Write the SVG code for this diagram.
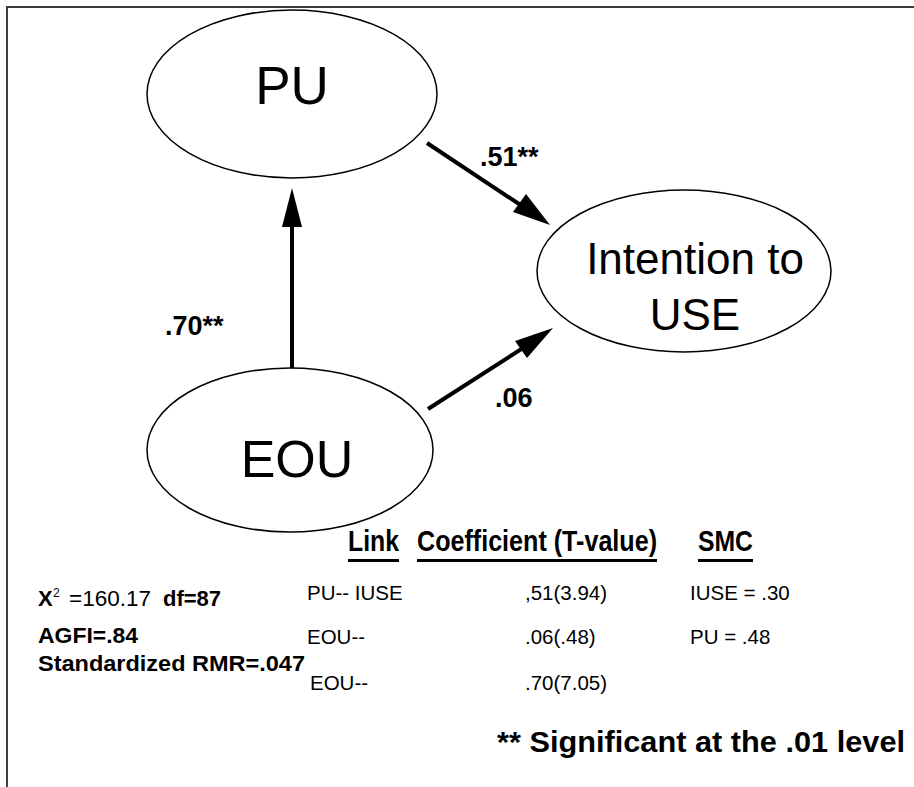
<svg xmlns="http://www.w3.org/2000/svg" width="914" height="787" viewBox="0 0 914 787">
  <defs>
    <style>
      .frame { fill: none; stroke: #3c3c3c; stroke-width: 2; }
      .node { fill: #ffffff; stroke: #000000; stroke-width: 1.5; }
      .nodeLabel { font-family: "Liberation Sans", Arial, sans-serif; fill: #000; text-anchor: middle; }
      .edge { stroke: #000000; stroke-width: 4; fill: none; }
      .head { fill: #000000; stroke: none; }
      .coef { font-family: "Liberation Sans", Arial, sans-serif; font-weight: bold; font-size: 27px; fill: #000; }
      .hdr { font-family: "Liberation Sans", Arial, sans-serif; font-weight: bold; font-size: 30px; fill: #000; }
      .rule { fill: #000; }
      .cell { font-family: "Liberation Sans", Arial, sans-serif; font-size: 20.5px; fill: #000; }
      .fit { font-family: "Liberation Sans", Arial, sans-serif; font-weight: bold; font-size: 22px; fill: #000; }
      .sup { font-family: "Liberation Sans", Arial, sans-serif; font-size: 12px; fill: #000; }
      .chi { font-family: "Liberation Sans", Arial, sans-serif; font-size: 22.5px; fill: #000; }
      .note { font-family: "Liberation Sans", Arial, sans-serif; font-weight: bold; font-size: 30px; fill: #000; }
    </style>
  </defs>

  <rect width="914" height="787" fill="#ffffff"/>

  <!-- frame: top and left edges -->
  <path class="frame" d="M7,787 V7 H914"/>

  <!-- structural paths -->
  <g id="connectors">
    <!-- EOU -> PU -->
    <line class="edge" x1="292" y1="370" x2="292" y2="222"/>
    <polygon class="head" points="292,188 302,227 282,227"/>
    <!-- PU -> Intention to USE -->
    <line class="edge" x1="427" y1="143" x2="525" y2="208"/>
    <polygon class="head" points="550,225 513,212 526,194"/>
    <!-- EOU -> Intention to USE -->
    <line class="edge" x1="428" y1="409" x2="526" y2="346"/>
    <polygon class="head" points="553,328 527,358 515,341"/>
  </g>

  <g id="node-PU">
    <ellipse class="node" cx="292" cy="94" rx="145" ry="84"/>
    <text class="nodeLabel" x="292" y="104" font-size="53">PU</text>
  </g>

  <g id="node-EOU">
    <ellipse class="node" cx="290" cy="450" rx="143" ry="82"/>
    <text class="nodeLabel" x="297" y="477" font-size="52">EOU</text>
  </g>

  <g id="node-IUSE">
    <ellipse class="node" cx="684" cy="271" rx="147" ry="81"/>
    <text class="nodeLabel" x="695" y="274" font-size="44">Intention to</text>
    <text class="nodeLabel" x="695" y="330" font-size="44">USE</text>
  </g>

  <!-- path coefficients -->
  <g id="edge-labels">
    <text class="coef" x="480" y="166">.51**</text>
    <text class="coef" x="165" y="335">.70**</text>
    <text class="coef" x="495" y="407">.06</text>
  </g>

  <!-- results table -->
  <g id="table">
    <text class="hdr" x="348" y="551" textLength="51" lengthAdjust="spacingAndGlyphs">Link</text>
    <rect class="rule" x="348" y="559" width="51" height="3"/>
    <text class="hdr" x="417" y="551" textLength="240" lengthAdjust="spacingAndGlyphs">Coefficient (T-value)</text>
    <rect class="rule" x="417" y="559" width="240" height="3"/>
    <text class="hdr" x="698" y="551" textLength="55" lengthAdjust="spacingAndGlyphs">SMC</text>
    <rect class="rule" x="698" y="559" width="55" height="3"/>

    <text class="cell" x="307" y="600">PU-- IUSE</text>
    <text class="cell" x="525" y="600">,51(3.94)</text>
    <text class="cell" x="690" y="600">IUSE = .30</text>

    <text class="cell" x="307" y="644">EOU--</text>
    <text class="cell" x="525" y="644">.06(.48)</text>
    <text class="cell" x="690" y="644">PU = .48</text>

    <text class="cell" x="310" y="690">EOU--</text>
    <text class="cell" x="525" y="690">.70(7.05)</text>
  </g>

  <!-- model fit -->
  <g id="fit">
    <text x="38" y="606"><tspan class="fit">X</tspan><tspan class="sup" x="53" dy="-9">2</tspan><tspan class="chi" x="69" dy="9">=160.17</tspan><tspan class="fit" x="163">df=87</tspan></text>
    <text class="fit" x="38" y="643" textLength="100" lengthAdjust="spacingAndGlyphs">AGFI=.84</text>
    <text class="fit" x="38" y="671" textLength="267" lengthAdjust="spacingAndGlyphs">Standardized RMR=.047</text>
  </g>

  <text class="note" x="497" y="752" textLength="408" lengthAdjust="spacingAndGlyphs">** Significant at the .01 level</text>
</svg>
